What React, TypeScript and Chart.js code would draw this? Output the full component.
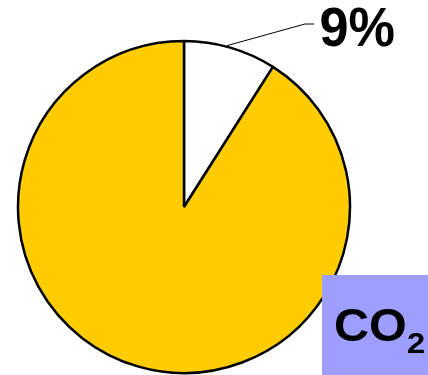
import React, { useEffect, useRef } from "react";
import { Chart, registerables } from "chart.js";

Chart.register(...registerables);

const categories = ["Other", "Rest"];
const values = [9, 91];
const sliceColors = ["#ffffff", "#ffcc00"];
const calloutLabel = "9%";
const boxMain = "CO";
const boxSub = "2";

function fitText(ctx: CanvasRenderingContext2D, text: string, l: number, r: number, t: number, b: number) {
  ctx.save();
  ctx.font = "bold 100px 'Liberation Sans', Arial, sans-serif";
  ctx.textAlign = "left";
  ctx.textBaseline = "alphabetic";
  const m = ctx.measureText(text);
  const inkW = m.actualBoundingBoxLeft + m.actualBoundingBoxRight;
  const inkH = m.actualBoundingBoxAscent + m.actualBoundingBoxDescent;
  const sx = (r - l) / inkW;
  const sy = (b - t) / inkH;
  ctx.translate(l + m.actualBoundingBoxLeft * sx, t + m.actualBoundingBoxAscent * sy);
  ctx.scale(sx, sy);
  ctx.fillText(text, 0, 0);
  ctx.restore();
}

const overlayPlugin = {
  id: "overlay",
  afterDraw(chart: any) {
    const ctx = chart.ctx;
    const meta = chart.getDatasetMeta(0);
    const arc: any = meta.data[0];
    if (arc) {
      const { x, y, startAngle, endAngle, outerRadius } = arc.getProps(
        ["x", "y", "startAngle", "endAngle", "outerRadius"],
        true
      );
      const mid = startAngle + (endAngle - startAngle) * 0.46;
      const sx = x + Math.cos(mid) * (outerRadius + 1);
      const sy = y + Math.sin(mid) * (outerRadius + 1);
      ctx.save();
      ctx.strokeStyle = "#000";
      ctx.lineWidth = 1;
      ctx.beginPath();
      ctx.moveTo(sx, sy);
      ctx.lineTo(305, 24);
      ctx.lineTo(314, 24);
      ctx.stroke();
      ctx.fillStyle = "#000";
      fitText(ctx, calloutLabel, 321, 394, 8, 47);
      ctx.restore();
    }
    ctx.save();
    ctx.fillStyle = "#9e9eff";
    ctx.fillRect(322, 275, 106, 100);
    ctx.fillStyle = "#000";
    fitText(ctx, boxMain, 336, 405, 308, 341);
    fitText(ctx, boxSub, 408, 424, 333, 353);
    ctx.restore();
  },
};

export default function App() {
  const ref = useRef<HTMLCanvasElement>(null);
  useEffect(() => {
    document.body.style.margin = "0";
    const chart = new Chart(ref.current!, {
      type: "pie",
      data: {
        labels: categories,
        datasets: [
          {
            data: values,
            backgroundColor: sliceColors,
            borderColor: "#000000",
            borderWidth: 2.5,
          },
        ],
      },
      options: {
        responsive: false,
        animation: false,
        radius: 166,
        layout: { padding: { left: 0, right: 60, top: 39, bottom: 0 } },
        plugins: {
          legend: { display: false },
          tooltip: { enabled: false },
        },
      } as any,
      plugins: [overlayPlugin],
    });
    return () => chart.destroy();
  }, []);
  return (
    <div style={{ width: 428, height: 375 }}>
      <canvas ref={ref} width={428} height={375} />
    </div>
  );
}
